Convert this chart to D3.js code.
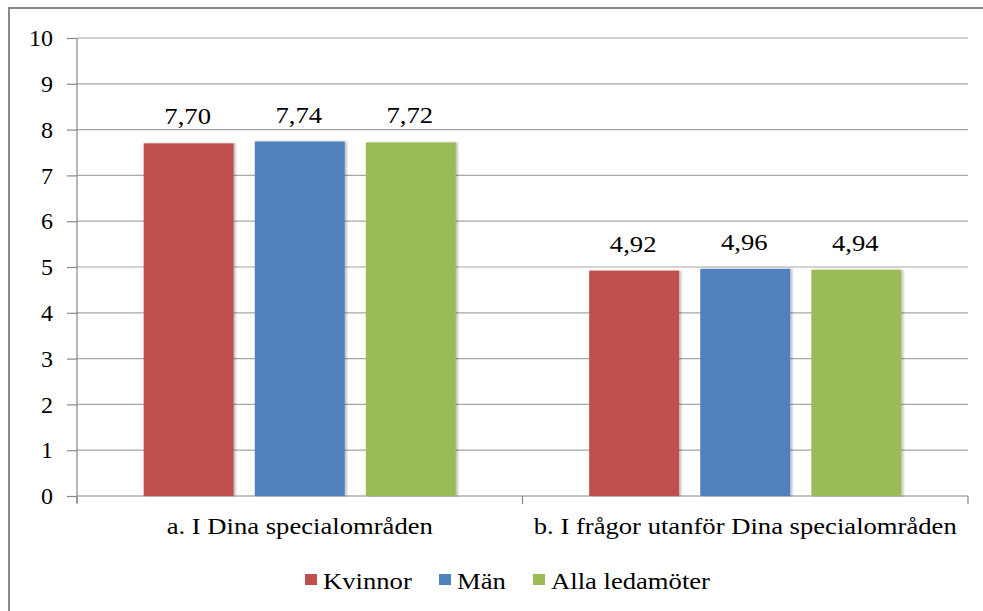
<!DOCTYPE html>
<html><head><meta charset="utf-8">
<script src="https://cdn.jsdelivr.net/npm/d3@7"></script>
<style>body{margin:0;background:#fff}svg{display:block}svg text{font-family:"Liberation Serif","Times New Roman",Times,"DejaVu Serif",serif !important;fill:#000}</style>
</head><body>
<script>
const categories = ["a. I Dina specialområden", "b. I frågor utanför Dina specialområden"];
const seriesNames = ["Kvinnor", "Män", "Alla ledamöter"];
const kvinnor = [7.70, 4.92];
const man = [7.74, 4.96];
const alla = [7.72, 4.94];
const yTicks = [0,1,2,3,4,5,6,7,8,9,10];
const colors = ["#C0504D", "#4F81BD", "#9BBB59"];
const seriesValues = [kvinnor, man, alla];

(function(){
const W = 983, H = 611;
const SX = 1.11;
const FF = '"Liberation Serif","Times New Roman",Times,"DejaVu Serif",serif';
const svg = d3.select("body").append("svg").attr("width", W).attr("height", H).attr("font-family", FF);
svg.append("rect").attr("x", 9).attr("y", 8).attr("width", 1000).attr("height", 700)
  .attr("fill", "none").attr("stroke", "#888").attr("stroke-width", 2);

const pl = 77, pr = 968, pt = 38, pb = 496;
const x0 = d3.scaleBand().domain(categories).range([pl, pr]);
const x1 = d3.scaleBand().domain(seriesNames).range([0, x0.bandwidth()]).paddingInner(0.19).paddingOuter(0.6);
const y = d3.scaleLinear().domain([0, 10]).range([pb, pt]);

svg.append("g").selectAll("line").data(yTicks.filter(d => d > 0)).join("line")
  .attr("x1", pl).attr("x2", pr).attr("y1", d => y(d)).attr("y2", d => y(d))
  .attr("stroke", "#a6a6a6").attr("stroke-width", 1.2);

const yAxis = svg.append("g").attr("transform", `translate(${pl},0)`)
  .call(d3.axisLeft(y).tickValues(yTicks).tickSize(10).tickPadding(14).tickFormat(d3.format("d")));
yAxis.attr("font-family", FF).attr("font-size", 24);
yAxis.select(".domain").attr("d", `M0,${pt}V${pb + 7}`).attr("stroke", "#888").attr("stroke-width", 1.2);
yAxis.selectAll(".tick line").attr("stroke", "#888").attr("stroke-width", 1.2);
yAxis.selectAll("text").attr("fill", "#000");

const xAxis = svg.append("g").attr("transform", `translate(0,${pb})`)
  .call(d3.axisBottom(x0).tickSize(0).tickPadding(21));
xAxis.attr("font-family", FF).attr("font-size", 24);
xAxis.select(".domain").attr("d", `M${pl},0H${pr}`).attr("stroke", "#888").attr("stroke-width", 1.2);
xAxis.selectAll("text").attr("fill", "#000").attr("transform", `scale(${SX},1)`);
const sepX = [pl, pl + x0.step(), pr];
svg.append("g").selectAll("line").data(sepX).join("line")
  .attr("x1", d => d).attr("x2", d => d).attr("y1", pb).attr("y2", pb + 8)
  .attr("stroke", "#888").attr("stroke-width", 1.2);

const defs = svg.append("defs");
const f = defs.append("filter").attr("id", "sh").attr("x", "-10%").attr("y", "-10%").attr("width", "130%").attr("height", "120%");
f.append("feDropShadow").attr("dx", 2).attr("dy", 0).attr("stdDeviation", 1.2).attr("flood-color", "#000").attr("flood-opacity", 0.25);

const data = [];
categories.forEach((c, i) => seriesNames.forEach((s, j) => data.push({c, s, v: seriesValues[j][i], color: colors[j]})));

svg.append("g").selectAll("rect").data(data).join("rect")
  .attr("x", d => x0(d.c) + x1(d.s)).attr("width", x1.bandwidth())
  .attr("y", d => y(d.v)).attr("height", d => y(0) - y(d.v))
  .attr("fill", d => d.color).attr("filter", "url(#sh)");

const fmt = v => v.toFixed(2).replace(".", ",");
svg.append("g").attr("font-size", 24).selectAll("text").data(data).join("text")
  .attr("transform", d => `translate(${x0(d.c) + x1(d.s) + x1.bandwidth() / 2 - 1},${y(d.v) - 19}) scale(${SX},1)`)
  .attr("text-anchor", "middle").text(d => fmt(d.v));

const legend = svg.append("g").attr("font-size", 24);
const legX = [305, 439, 533];
seriesNames.forEach((s, j) => {
  legend.append("rect").attr("x", legX[j]).attr("y", 574).attr("width", 12).attr("height", 11).attr("fill", colors[j]);
  legend.append("text").attr("transform", `translate(${legX[j] + 18},589) scale(${SX},1)`).text(s);
});
})();
</script>
</body></html>
